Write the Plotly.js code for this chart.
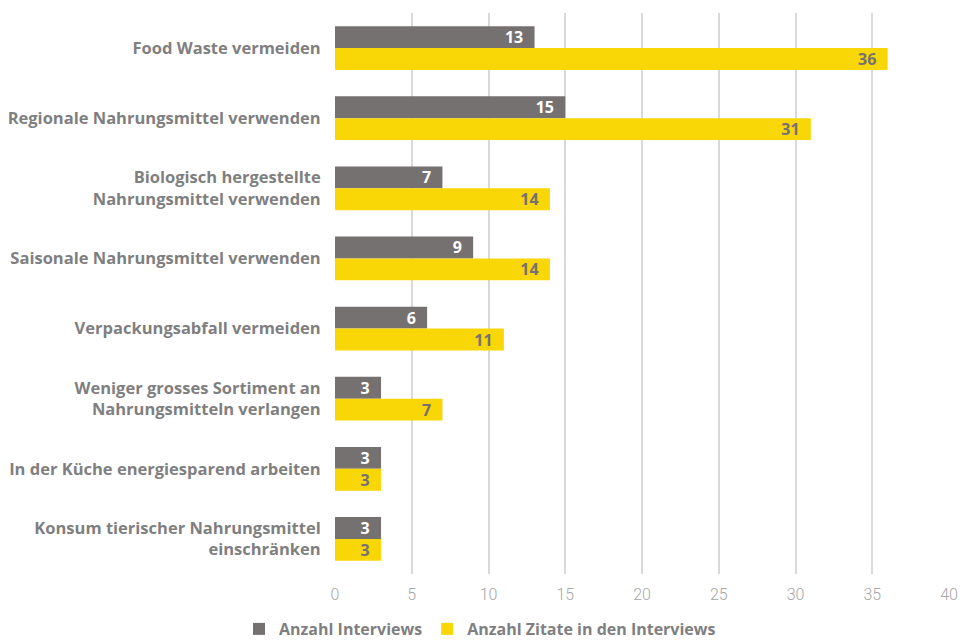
<!DOCTYPE html>
<html><head><meta charset="utf-8">
<script src="https://cdn.plot.ly/plotly-3.0.1.min.js"></script>
<style>html,body{margin:0;padding:0;background:#fff}</style>
</head><body>
<div id="chart" style="width:960px;height:641px"></div>
<script>
const categories = [
  "Food Waste vermeiden",
  "Regionale Nahrungsmittel verwenden",
  "Biologisch hergestellte<br>Nahrungsmittel verwenden",
  "Saisonale Nahrungsmittel verwenden",
  "Verpackungsabfall vermeiden",
  "Weniger grosses Sortiment an<br>Nahrungsmitteln verlangen",
  "In der Küche energiesparend arbeiten",
  "Konsum tierischer Nahrungsmittel<br>einschränken"
];
const interviews = [13, 15, 7, 9, 6, 3, 3, 3];
const zitate = [36, 31, 14, 14, 11, 7, 3, 3];
const seriesNames = ["Anzahl Interviews", "Anzahl Zitate in den Interviews"];
const tickVals = [0, 5, 10, 15, 20, 25, 30, 35, 40];

const FONT = "'Open Sans', 'Liberation Sans', sans-serif";
const TICKFONT = "Roboto, 'Liberation Sans', sans-serif";
const traces = [
  {type:'bar', orientation:'h', name:seriesNames[0], y:categories, x:interviews,
   marker:{color:'#767171'}, text:interviews.map(v=>v+'\u00a0\u00a0'), textposition:'inside',
   insidetextanchor:'end', textangle:0, constraintext:'none',
   insidetextfont:{color:'#ffffff', size:16, family:FONT, weight:700}, hoverinfo:'none'},
  {type:'bar', orientation:'h', name:seriesNames[1], y:categories, x:zitate,
   marker:{color:'#F9D606'}, text:zitate.map(v=>v+'\u00a0\u00a0'), textposition:'inside',
   insidetextanchor:'end', textangle:0, constraintext:'none',
   insidetextfont:{color:'#767171', size:16, family:FONT, weight:700}, hoverinfo:'none'}
];
const layout = {
  width:960, height:641,
  margin:{l:335, r:11, t:13, b:67, autoexpand:false},
  paper_bgcolor:'#fff', plot_bgcolor:'#fff',
  barmode:'group', bargap:0.375, bargroupgap:0,
  font:{family:FONT},
  xaxis:{range:[0,40], tickvals:tickVals, showgrid:true, gridcolor:'#d9d9d9', gridwidth:2,
         zeroline:false, showline:false, tickfont:{size:16, color:'#a6a6a6', family:TICKFONT, weight:300},
         ticks:'', ticklen:0, ticklabelstandoff:9, fixedrange:true},
  yaxis:{autorange:'reversed', tickfont:{size:16.5, color:'#7f7f7f', family:FONT, weight:700},
         ticks:'outside', ticklen:10, tickcolor:'rgba(0,0,0,0)', showline:false, fixedrange:true},
  showlegend:true,
  legend:{orientation:'h', xref:'container', x:0.5, xanchor:'center', yref:'paper', y:-0.098, yanchor:'middle',
          font:{size:16, color:'#7f7f7f', family:FONT, weight:700}, itemwidth:30, traceorder:'normal'}
};
Plotly.newPlot('chart', traces, layout, {staticPlot:true, displayModeBar:false});
</script>
</body></html>
